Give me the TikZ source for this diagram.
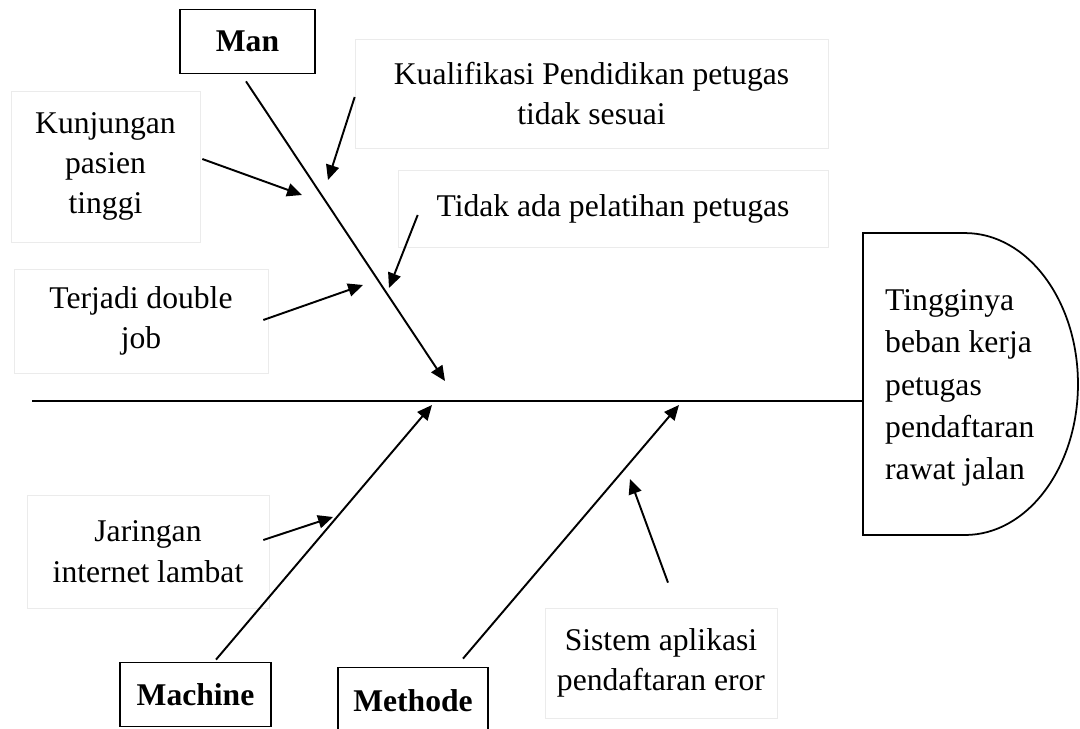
\documentclass[tikz,border=0pt]{standalone}
\usepackage{fontspec}
\setmainfont{Liberation Serif}
\usetikzlibrary{arrows.meta,calc,positioning}

\begin{document}
\begin{tikzpicture}[
    x=0.02cm, y=-0.02cm,
    font=\fontsize{18}{23}\selectfont,
    cause/.style={draw=black!8, align=center, inner sep=0pt},
    category/.style={draw, line width=1pt, font=\fontsize{18}{23}\selectfont\bfseries,
                     inner sep=0pt, minimum height=1.28cm},
    bone/.style={line width=1.1pt, -{Triangle[length=8.5pt,width=7.5pt]}},
    arrow/.style={line width=1.1pt, -{Triangle[length=8.5pt,width=7.5pt]}},
    spine/.style={line width=1.1pt}
]
\clip (0,0) rectangle (1080,729);

% 1) Causes (boxes first, so the lines lie on top)
\node[cause, minimum width=3.78cm, minimum height=3.02cm] (kunjungan) at (105.5,166.5)
    {Kunjungan\\pasien\\tinggi};
\node[cause, minimum width=5.08cm, minimum height=2.08cm] (double) at (141,321)
    {Terjadi double\\job};
\node[cause, minimum width=9.46cm, minimum height=2.18cm] (kualifikasi) at (591.5,93.5)
    {Kualifikasi Pendidikan petugas\\tidak sesuai};
\node[cause, minimum width=8.6cm, minimum height=1.54cm] (pelatihan) at (613,208.5)
    {Tidak ada pelatihan petugas};
\node[cause, minimum width=4.84cm, minimum height=2.26cm] (jaringan) at (148,551.5)
    {Jaringan\\internet lambat};
\node[cause, minimum width=4.64cm, minimum height=2.2cm] (aplikasi) at (661,663)
    {Sistem aplikasi\\pendaftaran eror};

% 2) Effect (head)
\draw[line width=1pt] (965,233) -- (863,233) -- (863,535) -- (965,535)
    arc[start angle=-90, end angle=90, x radius=2.26cm, y radius=3.02cm] -- cycle;
\node[anchor=west, align=left, font=\fontsize{18}{24}\selectfont] (effect) at (879,388)
    {Tingginya\\beban kerja\\petugas\\pendaftaran\\rawat jalan};

% 3) Spine
\coordinate (tail) at (32,401);
\coordinate (headL) at (863,401);
\draw[spine] (tail) -- (headL);

% 4) Categories and bones
\node[category, minimum width=2.7cm] (man) at (247.5,41.5) {Man};
\node[category, minimum width=3.02cm] (machine) at (195.5,694.5) {Machine};
\node[category, minimum width=3cm, minimum height=1.34cm] (methode) at (413,701) {Methode};

\coordinate (man-tip) at (445,381);
\coordinate (machine-tip) at (432,405);
\coordinate (methode-tip) at (679,405);
\draw[bone] ($(man.south)+(-1.5,7)$) -- (man-tip);
\draw[bone] ($(machine.north)+(20.5,-2)$) -- (machine-tip);
\draw[bone] ($(methode.north)+(50,-8)$) -- (methode-tip);

% 5) Cause arrows
\coordinate (kunjungan-tip) at (302,195);
\coordinate (double-tip) at (363,285);
\coordinate (kualifikasi-tip) at (328,180);
\coordinate (pelatihan-tip) at (389,288);
\coordinate (jaringan-tip) at (333,517);
\coordinate (aplikasi-tip) at (630,479);
\draw[arrow] ($(kunjungan.east)+(2,-7.5)$) -- (kunjungan-tip);
\draw[arrow] ($(double.east)+(-5,-1)$) -- (double-tip);
\draw[arrow] ($(kualifikasi.west)+(0,3.5)$) -- (kualifikasi-tip);
\draw[arrow] ($(pelatihan.west)+(20,6.5)$) -- (pelatihan-tip);
\draw[arrow] ($(jaringan.east)+(-6,-11.5)$) -- (jaringan-tip);
\draw[arrow] ($(aplikasi.north)+(7,-25)$) -- (aplikasi-tip);
\end{tikzpicture}
\end{document}
